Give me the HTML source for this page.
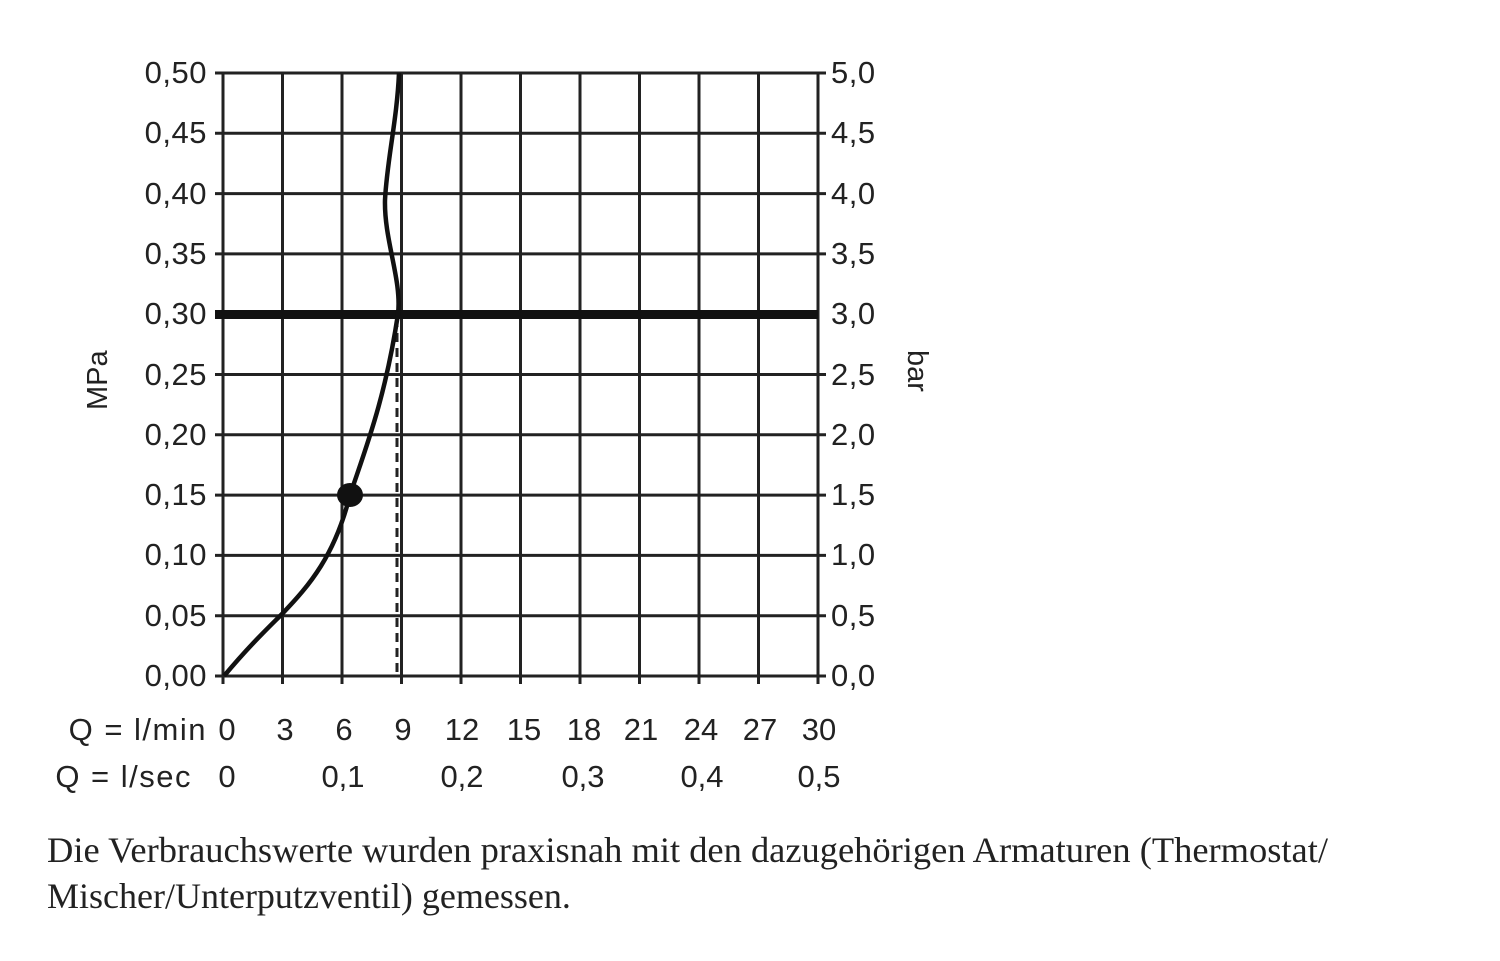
<!DOCTYPE html>
<html><head><meta charset="utf-8"><style>
body{margin:0;background:#fff;width:1500px;height:956px;overflow:hidden}
svg text{font-family:"Liberation Sans",sans-serif;fill:#222}
</style></head><body>
<svg width="1500" height="956" viewBox="0 0 1500 956" xmlns="http://www.w3.org/2000/svg">
<g stroke="#222" stroke-width="3" fill="none">
<line x1="223" y1="73" x2="223" y2="684"/><line x1="282.5" y1="73" x2="282.5" y2="684"/><line x1="342" y1="73" x2="342" y2="684"/><line x1="401.5" y1="73" x2="401.5" y2="684"/><line x1="461" y1="73" x2="461" y2="684"/><line x1="520.5" y1="73" x2="520.5" y2="684"/><line x1="580" y1="73" x2="580" y2="684"/><line x1="639.5" y1="73" x2="639.5" y2="684"/><line x1="699" y1="73" x2="699" y2="684"/><line x1="758.5" y1="73" x2="758.5" y2="684"/><line x1="818" y1="73" x2="818" y2="684"/>
<line x1="215" y1="73" x2="826" y2="73"/><line x1="215" y1="133.3" x2="826" y2="133.3"/><line x1="215" y1="193.6" x2="826" y2="193.6"/><line x1="215" y1="253.9" x2="826" y2="253.9"/><line x1="215" y1="374.5" x2="826" y2="374.5"/><line x1="215" y1="434.8" x2="826" y2="434.8"/><line x1="215" y1="495.1" x2="826" y2="495.1"/><line x1="215" y1="555.4" x2="826" y2="555.4"/><line x1="215" y1="615.7" x2="826" y2="615.7"/><line x1="215" y1="676" x2="826" y2="676"/>
</g>
<line x1="215" y1="314.5" x2="818" y2="314.5" stroke="#111" stroke-width="9"/>
<line x1="397" y1="318" x2="397" y2="676" stroke="#222" stroke-width="3" stroke-dasharray="9,6"/>
<path d="M224,676 C250,645 268,628 282,614 C310,585 335,555 350,495 C365,450 385,400 398,314 C402,280 384,240 385,200 C387,160 397,120 399,73" stroke="#111" stroke-width="4.5" fill="none"/>
<ellipse cx="350" cy="495" rx="13" ry="12" fill="#111"/>
<g font-size="31" text-anchor="end" letter-spacing="0.5">
<text x="207" y="83">0,50</text><text x="207" y="143">0,45</text><text x="207" y="204">0,40</text><text x="207" y="264">0,35</text><text x="207" y="324">0,30</text><text x="207" y="385">0,25</text><text x="207" y="445">0,20</text><text x="207" y="505">0,15</text><text x="207" y="565">0,10</text><text x="207" y="626">0,05</text><text x="207" y="686">0,00</text>
</g>
<g font-size="31" letter-spacing="0.5">
<text x="831" y="83">5,0</text><text x="831" y="143">4,5</text><text x="831" y="204">4,0</text><text x="831" y="264">3,5</text><text x="831" y="324">3,0</text><text x="831" y="385">2,5</text><text x="831" y="445">2,0</text><text x="831" y="505">1,5</text><text x="831" y="565">1,0</text><text x="831" y="626">0,5</text><text x="831" y="686">0,0</text>
</g>
<text x="0" y="0" font-size="29" transform="translate(107,410) rotate(-90)">MPa</text>
<text x="0" y="0" font-size="29" transform="translate(908,350) rotate(90)">bar</text>
<g font-size="31" text-anchor="middle">
<text x="227" y="740">0</text><text x="285" y="740">3</text><text x="344" y="740">6</text><text x="403" y="740">9</text><text x="462" y="740">12</text><text x="524" y="740">15</text><text x="584" y="740">18</text><text x="641" y="740">21</text><text x="701" y="740">24</text><text x="760" y="740">27</text><text x="819" y="740">30</text>
<text x="227" y="787">0</text><text x="343" y="787">0,1</text><text x="462" y="787">0,2</text><text x="583" y="787">0,3</text><text x="702" y="787">0,4</text><text x="819" y="787">0,5</text>
</g>
<g font-size="31" text-anchor="end" letter-spacing="1.5">
<text x="207" y="740">Q = l/min</text><text x="192" y="787">Q = l/sec</text>
</g>
<g font-size="36">
<text x="47" y="862" style="font-family:'Liberation Serif',serif" textLength="1281" lengthAdjust="spacingAndGlyphs">Die Verbrauchswerte wurden praxisnah mit den dazugehörigen Armaturen (Thermostat/</text>
<text x="47" y="908" style="font-family:'Liberation Serif',serif">Mischer/Unterputzventil) gemessen.</text>
</g>
</svg>
</body></html>
